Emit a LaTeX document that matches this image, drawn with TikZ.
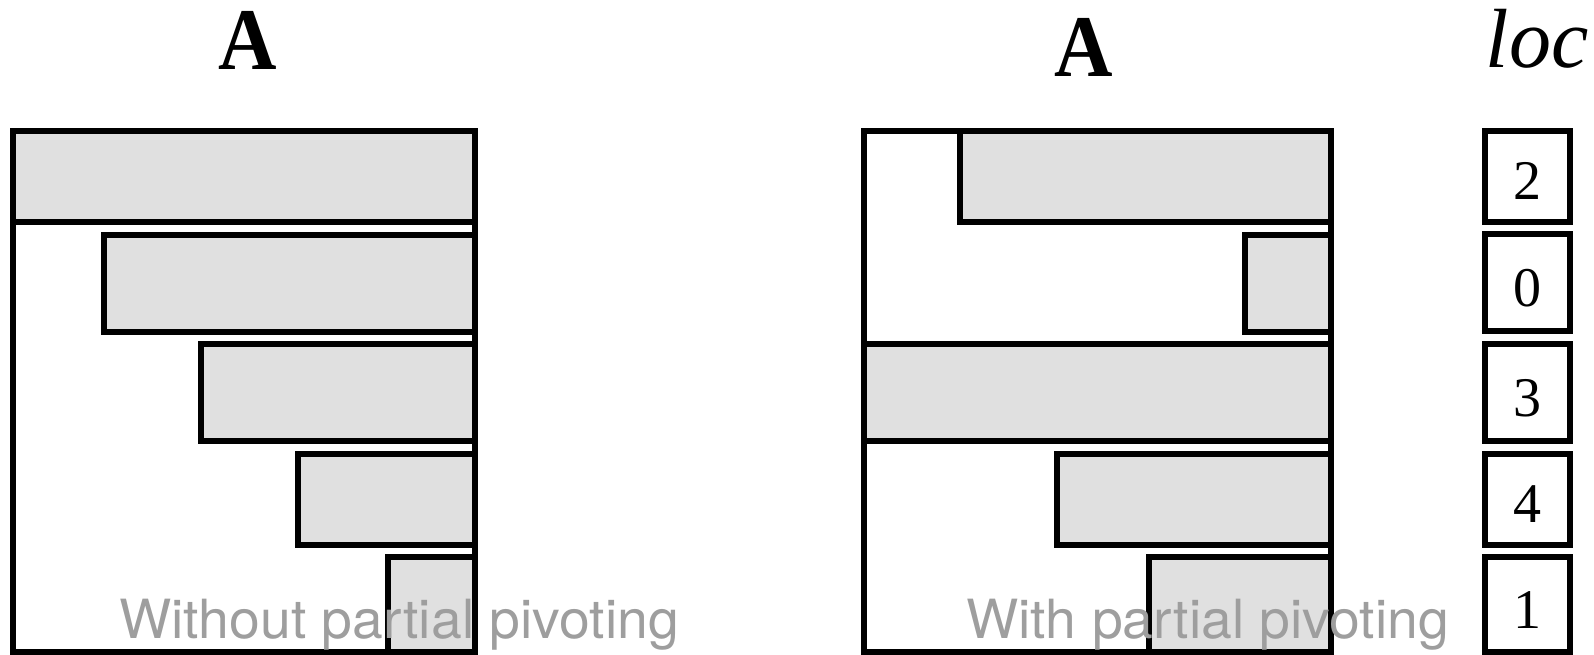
\documentclass[tikz,border=0pt]{standalone}
\usepackage{fontspec}
\setmainfont{Liberation Serif}
\newfontfamily\capfont{TeX Gyre Heros}
\definecolor{barfill}{RGB}{224,224,224}
\definecolor{capgray}{RGB}{158,158,158}
\begin{document}
\begin{tikzpicture}[x=1pt,y=-1pt,
  frame/.style={line width=6pt, draw=black},
  bar/.style={line width=6pt, draw=black, fill=barfill},
  locbox/.style={draw=black, line width=6pt, minimum width=85pt, inner sep=0pt,
    text height=47pt, text depth=0pt, font=\fontsize{56}{56}\selectfont},
  title/.style={inner sep=0pt, font=\fontsize{88}{88}\selectfont\bfseries},
  caption/.style={inner sep=0pt, text=capgray, xscale=1.025, font=\capfont\fontsize{54}{54}\selectfont}]
\useasboundingbox (0,0) rectangle (1594,655);

% ---- left matrix (without pivoting)
\draw[bar] (13,131) rectangle (475,222);
\draw[bar] (104,234.5) rectangle (475,331.5);
\draw[bar] (201,344) rectangle (475,441);
\draw[bar] (298,454) rectangle (475,544.5);
\draw[bar] (388,557) rectangle (475,652);
\draw[frame] (13,131) rectangle (475,652);

% ---- right matrix (with pivoting)
\draw[bar] (960,131) rectangle (1330.5,222);
\draw[bar] (1245,234.5) rectangle (1330.5,331.5);
\draw[bar] (864,344) rectangle (1330.5,441);
\draw[bar] (1057,454) rectangle (1330.5,544.5);
\draw[bar] (1149,557) rectangle (1330.5,652);
\draw[frame] (864,131) rectangle (1330.5,652);

% ---- loc vector
\node[locbox, minimum height=91pt] (l1) at (1527,176.5) {2};
\node[locbox, minimum height=97pt] (l2) at (1527,282.75) {0};
\node[locbox, minimum height=97pt] (l3) at (1527,392.5) {3};
\node[locbox, minimum height=90.5pt] (l4) at (1527,499.25) {4};
\node[locbox, minimum height=95pt] (l5) at (1527,604.5) {1};

% ---- titles
\node[title, anchor=base, xscale=0.92] (tA1) at (247.5,70) {A};
\node[title, anchor=base, xscale=0.92] (tA2) at (1084,77) {A};
\node[inner sep=0pt, anchor=base, font=\fontsize{84}{84}\selectfont\itshape] (tloc) at (1537,68) {loc};

% ---- captions
\node[caption, anchor=base west] (c1) at (119,638) {Without partial pivoting};
\node[caption, anchor=base west] (c2) at (966,638) {With partial pivoting};
\end{tikzpicture}
\end{document}
